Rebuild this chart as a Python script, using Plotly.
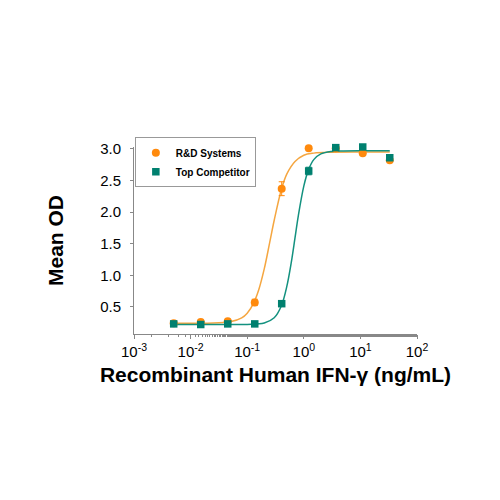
import plotly.graph_objects as go

# Data
conc = [0.00503, 0.0151, 0.0453, 0.136, 0.407, 1.22, 3.67, 11.0, 33.0]
rd_od = [0.24, 0.26, 0.27, 0.57, 2.37, 3.01, 3.01, 2.93, 2.82]
rd_err = [0.01, 0.01, 0.03, 0.05, 0.11, 0.01, 0.01, 0.02, 0.02]
tc_od = [0.23, 0.22, 0.23, 0.23, 0.55, 2.65, 3.02, 3.03, 2.86]
tc_err = [0.01, 0.01, 0.01, 0.01, 0.02, 0.06, 0.02, 0.02, 0.02]

# fitted curves
rd_fit_x = [0.00503, 0.02, 0.05, 0.08, 0.1, 0.13, 0.16, 0.2, 0.25, 0.3, 0.4, 0.5, 0.7, 1.0, 1.5, 3.0, 10.0, 33.0]
rd_fit_y = [0.24, 0.242, 0.263, 0.326, 0.40, 0.56, 0.77, 1.10, 1.52, 1.87, 2.35, 2.60, 2.80, 2.90, 2.933, 2.947, 2.95, 2.95]
tc_fit_x = [0.00503, 0.05, 0.1, 0.2, 0.3, 0.4, 0.5, 0.6, 0.7, 0.8, 1.0, 1.2, 1.5, 2.0, 3.0, 5.0, 10.0, 33.0]
tc_fit_y = [0.22, 0.22, 0.222, 0.243, 0.326, 0.513, 0.82, 1.20, 1.595, 1.94, 2.41, 2.66, 2.83, 2.92, 2.959, 2.967, 2.97, 2.97]

x_tickvals = [0.001, 0.01, 0.1, 1, 10, 100]
x_ticktext = ["10<sup>-3</sup>", "10<sup>-2</sup>", "10<sup>-1</sup>", "10<sup>0</sup>", "10<sup>1</sup>", "10<sup>2</sup>"]
y_tickvals = [0.5, 1.0, 1.5, 2.0, 2.5, 3.0]
y_ticktext = ["0.5", "1.0", "1.5", "2.0", "2.5", "3.0"]

ORANGE = "#FF8A0D"
ORANGE_LINE = "#F5A640"
TEAL = "#00806F"
TEAL_LINE = "#13917F"
FONT = "Liberation Sans, Arial, sans-serif"

fig = go.Figure()
fig.add_trace(go.Scatter(x=rd_fit_x, y=rd_fit_y, mode="lines", line=dict(color=ORANGE_LINE, width=1.5, shape="spline"),
                         showlegend=False, hoverinfo="skip"))
fig.add_trace(go.Scatter(x=tc_fit_x, y=tc_fit_y, mode="lines", line=dict(color=TEAL_LINE, width=1.5, shape="spline"),
                         showlegend=False, hoverinfo="skip"))
fig.add_trace(go.Scatter(x=conc, y=rd_od, mode="markers", name="R&D Systems",
                         marker=dict(symbol="circle", size=8, color=ORANGE),
                         error_y=dict(type="data", array=rd_err, color=ORANGE, thickness=1, width=3),
                         cliponaxis=False))
fig.add_trace(go.Scatter(x=conc, y=tc_od, mode="markers", name="Top Competitor",
                         marker=dict(symbol="square", size=7.5, color=TEAL),
                         error_y=dict(type="data", array=tc_err, color=TEAL, thickness=1, width=3),
                         cliponaxis=False))

fig.update_layout(
    width=492, height=492,
    margin=dict(l=126, r=83, t=139, b=166, autoexpand=False),
    paper_bgcolor="white", plot_bgcolor="white",
    font=dict(family=FONT, color="black"),
    legend=dict(x=0.003, y=1.052, xanchor="left", yanchor="top",
                bordercolor="#999999", borderwidth=1, bgcolor="white",
                font=dict(size=10, family=FONT, weight="bold"),
                tracegroupgap=0, itemwidth=30),
    xaxis=dict(type="log", range=[-3, 2], tickvals=x_tickvals, ticktext=x_ticktext,
               showgrid=False, zeroline=False, showline=True, linecolor="#888888", linewidth=1,
               ticks="outside", ticklen=4, tickcolor="#888888", tickfont=dict(size=15),
               minor=dict(ticks="outside", ticklen=2, tickcolor="#888888", showgrid=False),
               title=dict(text="Recombinant Human IFN-γ (ng/mL)", font=dict(size=21, weight="bold"), standoff=8)),
    yaxis=dict(range=[0.07, 3.03], tickvals=y_tickvals, ticktext=y_ticktext,
               showgrid=False, zeroline=False, showline=True, linecolor="#888888", linewidth=1,
               ticks="outside", ticklen=3, tickcolor="#888888", tickfont=dict(size=15),
               ticklabelstandoff=6,
               title=dict(text="Mean OD", font=dict(size=21, weight="bold"), standoff=30)),
)

fig.write_html("out.html")
